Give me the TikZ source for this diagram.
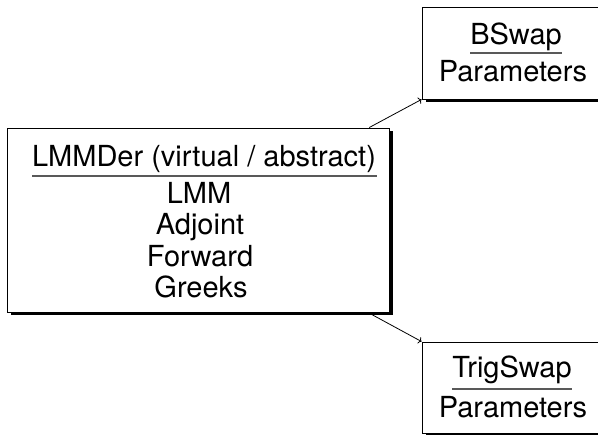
\documentclass[tikz,border=0pt]{standalone}
\usepackage{fontspec}
\setmainfont{TeX Gyre Heros}
\usetikzlibrary{shadows,arrows.meta}
\begin{document}
\begin{tikzpicture}[x=1pt,y=1pt,
  classbox/.style={draw=black, line width=0.9pt, fill=white, rectangle, inner sep=0pt,
    drop shadow={shadow xshift=3.5pt, shadow yshift=-3.5pt, fill=black, opacity=1}},
  txt/.style={anchor=base, inner sep=0pt, font=\fontsize{29}{34}\selectfont},
  rulebar/.style={draw=black!65, line width=1.4pt},
  link/.style={draw=black, line width=0.8pt, -{To[length=3pt,width=7pt]}}]
\useasboundingbox (0,0) rectangle (598,435);
\clip (0,0) rectangle (598,435);
% boxes
\node[classbox, minimum width=382pt, minimum height=184pt] (main) at (198,215) {};
\node[classbox, minimum width=182pt, minimum height=92pt] (bswap) at (513,382) {};
\node[classbox, minimum width=182pt, minimum height=91pt] (trig) at (513,47.5) {};
% main texts
\node[txt] (mt) at (204,268) {LMMDer (virtual / abstract)};
\node[txt] (m1) at (199,231) {LMM};
\node[txt] (m2) at (200,200) {Adjoint};
\node[txt] (m3) at (200,168) {Forward};
\node[txt] (m4) at (201,137) {Greeks};
\draw[rulebar] (32,259) -- (377,259);
% bswap texts
\node[txt] (bt) at (516,390) {BSwap};
\node[txt] (bp) at (513,353) {Parameters};
\draw[rulebar] (470,382) -- (562,382);
% trigswap texts
\node[txt] (tt) at (512,57) {TrigSwap};
\node[txt] (tp) at (513,17) {Parameters};
\draw[rulebar] (452,46) -- (572,46);
% connectors
\draw[link] (main) -- (bswap.south west);
\draw[link] (main) -- (trig.north west);
\end{tikzpicture}
\end{document}
